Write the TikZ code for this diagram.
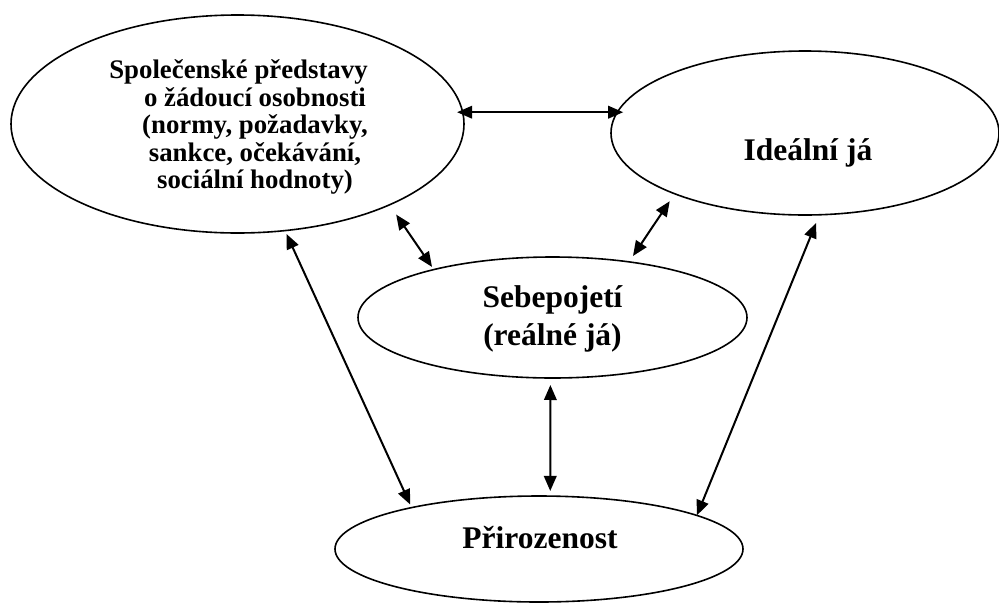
\documentclass[tikz,border=0pt]{standalone}
\usepackage{fontspec}
\setmainfont{Liberation Serif}
\usetikzlibrary{shapes.geometric,arrows.meta}
\begin{document}
\begin{tikzpicture}[x=1pt,y=-1pt,
  oval/.style={ellipse,draw,line width=1.6pt,inner sep=0pt,outer sep=0pt},
  lbl/.style={font=\bfseries\fontsize{31.5}{38}\selectfont,align=center,inner sep=0pt},
  lblsmall/.style={font=\bfseries\fontsize{26.8}{27.5}\selectfont,align=center,inner sep=0pt},
  link/.style={line width=2pt,{Triangle[length=15pt,width=12.5pt]}-{Triangle[length=15pt,width=12.5pt]}}]
\useasboundingbox (0,0) rectangle (999,603);
% ellipses
\node[oval,minimum width=453pt,minimum height=218pt] (spol) at (237.5,124) {};
\node[oval,minimum width=388pt,minimum height=164pt] (ideal) at (805,133) {};
\node[oval,minimum width=389pt,minimum height=121pt] (sebe) at (552.5,317.5) {};
\node[oval,minimum width=408pt,minimum height=106pt] (prir) at (539,549) {};
% texts
\node[lblsmall] (spoltxt) at (255,127) {Společenské představy\hspace*{33pt}\\o žádoucí osobnosti\\(normy, požadavky,\\sankce, očekávání,\\sociální hodnoty)};
\node[lbl] (idealtxt) at (808,153) {Ideální já};
\node[lbl] (sebetxt) at (552.5,319) {Sebepojetí\\(reálné já)};
\node[lbl] (prirtxt) at (540,538) {Přirozenost};
% connectors
\draw[link,shorten <=-5.6pt,shorten >=-4.5pt] (spol.3.05) -- (ideal.173.61 |- spol.3.05);
\draw[link,shorten <=11.8pt,shorten >=3.2pt] (spol.-28.37) -- (sebe.158.01);
\draw[link,shorten <=9pt,shorten >=7.1pt] (ideal.205.82) -- (sebe.36.55);
\draw[link,shorten <=3.7pt,shorten >=3.4pt] (spol.-66.22) -- (prir.162.47);
\draw[link,shorten <=8.9pt,shorten >=0.2pt] (ideal.-80.72) -- (prir.12.34);
\draw[link,shorten <=7pt,shorten >=5.1pt] (sebe.-92.37) -- (prir.78.26);
\end{tikzpicture}
\end{document}
